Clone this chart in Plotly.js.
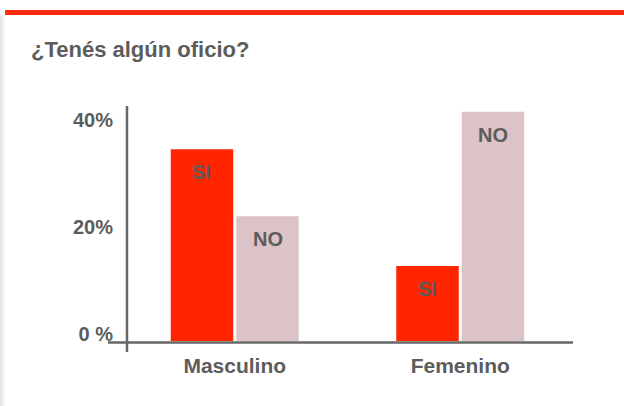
<!DOCTYPE html>
<html><head><meta charset="utf-8">
<script src="https://cdn.plot.ly/plotly-3.0.1.min.js"></script>
<style>html,body{margin:0;padding:0;background:#fff;}#chart{width:624px;height:406px;}</style>
</head><body><div id="chart"></div>
<script>
const categories = ['Masculino', 'Femenino'];
const seriesNames = ['SI', 'NO'];
const siValues = [35.8, 14.0];
const noValues = [23.3, 42.8];
const tickValues = [0, 20, 40];
const tickLabels = ['0 %', '20%', '40%'];

const colors = ['#ff2500', '#dbc3c7'];
const textColor = '#5c5c5c';
const fontFam = '"Liberation Sans", Arial, sans-serif';

const seriesValues = [siValues, noValues];
const traces = seriesValues.map((vals, i) => ({
  type: 'bar', x: categories, y: vals, name: seriesNames[i],
  marker: {color: colors[i], line: {width: 0}}, hoverinfo: 'skip'
}));

const annotations = [];
seriesValues.forEach((vals, i) => {
  vals.forEach((v, j) => {
    annotations.push({x: categories[j], y: v, xref: 'x', yref: 'y', text: seriesNames[i],
      showarrow: false, xshift: (i === 0 ? -33 : 33), yshift: -23, yanchor: 'middle',
      font: {family: fontFam, size: 20, color: textColor, weight: 'bold'}});
  });
});

// plot area px: x 122..573, y 100..341
const px = v => (v - 122) / 451;
const py = v => (341 - v) / 241;
const shapes = [
  {type: 'rect', xref: 'paper', yref: 'paper', x0: px(5), x1: px(624), y0: py(15), y1: py(10), fillcolor: '#ff2a0a', line: {width: 0}, layer: 'below'},
  {type: 'rect', xref: 'paper', yref: 'paper', x0: px(0), x1: px(2.5), y0: py(406), y1: py(15), fillcolor: '#e4e4e4', line: {width: 0}, layer: 'below'},
  {type: 'rect', xref: 'paper', yref: 'paper', x0: px(2.5), x1: px(5), y0: py(406), y1: py(15), fillcolor: '#f2f2f2', line: {width: 0}, layer: 'below'},
  {type: 'line', xref: 'paper', yref: 'paper', x0: px(127), x1: px(127), y0: py(352), y1: py(106), line: {color: '#666', width: 2.5}},
  {type: 'line', xref: 'paper', yref: 'paper', x0: px(108), x1: px(573), y0: py(342.5), y1: py(342.5), line: {color: '#666', width: 2.5}}
];

const layout = {
  width: 624, height: 406,
  margin: {l: 122, r: 51, t: 100, b: 65},
  paper_bgcolor: '#fff', plot_bgcolor: 'rgba(0,0,0,0)',
  showlegend: false,
  barmode: 'group', bargap: 0.419, bargroupgap: 0.046,
  title: {text: '¿Tenés algún oficio?', xref: 'container', yref: 'container', x: 31/624, xanchor: 'left', y: 1 - 49/406, yanchor: 'middle',
    font: {family: fontFam, size: 22, color: textColor, weight: 'bold'}},
  xaxis: {type: 'category', range: [-0.5, 1.5], showgrid: false, zeroline: false, showline: false, ticks: '',
    tickfont: {family: fontFam, size: 21, color: textColor, weight: 'bold'}, ticklabelstandoff: 10},
  yaxis: {range: [0, 45], showgrid: false, zeroline: false, showline: false, ticks: '',
    tickvals: tickValues, ticktext: tickLabels, ticklabelshift: -7,
    tickfont: {family: fontFam, size: 20, color: textColor, weight: 'bold'}, ticklabelstandoff: 8},
  shapes: shapes, annotations: annotations
};
Plotly.newPlot('chart', traces, layout, {staticPlot: true, displayModeBar: false});
</script></body></html>
